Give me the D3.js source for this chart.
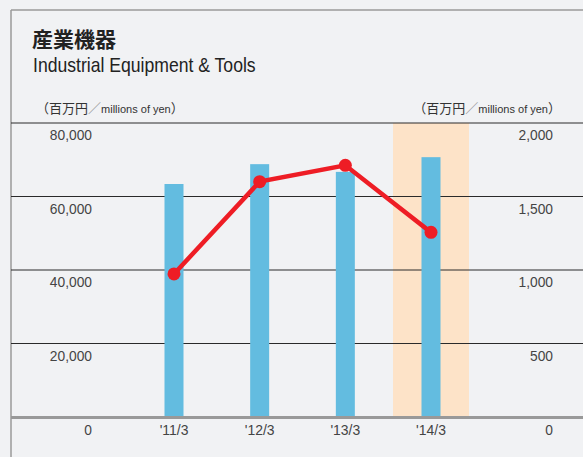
<!DOCTYPE html>
<html>
<head>
<meta charset="utf-8">
<script src="https://cdn.jsdelivr.net/npm/d3@7"></script>
<style>
  body { margin: 0; background: #f1f2f4; }
  svg { display: block; }
  text { font-family: "Liberation Sans", Arial, sans-serif; fill: #333; }
  .jp { font-family: "Noto Sans CJK JP", sans-serif; }
</style>
</head>
<body>
<svg></svg>
<script>
var categories = ["'11/3", "'12/3", "'13/3", "'14/3"];
var sales = [63400, 68800, 66700, 70700];      // left axis, bars
var income = [973, 1601, 1712, 1256];           // right axis, line
var leftTicks = [0, 20000, 40000, 60000, 80000];
var rightTicks = [0, 500, 1000, 1500, 2000];

var svgWidth = 583,
    svgHeight = 457;

var svg = d3.select("svg")
    .attr("width", svgWidth)
    .attr("height", svgHeight);

svg.append("rect")
    .attr("width", svgWidth).attr("height", svgHeight)
    .attr("fill", "#f1f2f4");

// frame
svg.append("line").attr("x1", 11).attr("x2", svgWidth).attr("y1", 10).attr("y2", 10)
    .attr("stroke", "#9a9a9a").attr("stroke-width", 1.5);
svg.append("line").attr("x1", 11).attr("x2", 11).attr("y1", 10).attr("y2", svgHeight)
    .attr("stroke", "#9a9a9a").attr("stroke-width", 1.5);

// squeezed text, Liberation Sans made to look like a condensed face
function ntext(sel, x, y, size, squeeze, anchor) {
    return sel.append("text")
        .attr("transform", "translate(" + x + "," + y + ") scale(" + squeeze + ",1)")
        .attr("text-anchor", anchor || "start")
        .attr("font-size", size);
}

// titles
svg.append("text").attr("class", "jp")
    .attr("x", 32).attr("y", 47)
    .attr("font-size", 21).attr("font-weight", "bold")
    .style("fill", "#222")
    .text("産業機器");
ntext(svg, 33, 72, 20, 0.88).style("fill", "#222").text("Industrial Equipment & Tools");

function unitLabel(x, anchor) {
    var g = svg.append("text")
        .attr("x", x).attr("y", 113)
        .attr("text-anchor", anchor)
        .attr("font-size", 13);
    g.append("tspan").attr("class", "jp").text("（百万円");
    g.append("tspan").attr("class", "jp").style("fill", "#999").text("／");
    g.append("tspan").attr("font-size", 11).text("millions of yen");
    g.append("tspan").attr("class", "jp").text("）");
}
unitLabel(36, "start");
unitLabel(561, "end");

var yLeft = d3.scaleLinear().domain([0, 80000]).range([417, 123]);
var yRight = d3.scaleLinear().domain([0, 2000]).range([417, 123]);
var x = d3.scalePoint().domain(categories).range([174, 431]);

// highlight band for latest year
svg.append("rect")
    .attr("x", x("'14/3") - 38).attr("width", 76)
    .attr("y", yLeft(80000)).attr("height", yLeft(0) - yLeft(80000))
    .attr("fill", "#fde3c8");

// gridlines
svg.selectAll("line.grid")
    .data(leftTicks.filter(function (d) { return d > 0; }))
    .enter()
    .append("line")
    .attr("class", "grid")
    .attr("x1", 11).attr("x2", svgWidth)
    .attr("y1", function (d) { return yLeft(d); })
    .attr("y2", function (d) { return yLeft(d); })
    .attr("stroke", "#2a2a2a").attr("stroke-width", 1);

// bars
var barWidth = 19;
svg.selectAll("rect.bar")
    .data(sales)
    .enter()
    .append("rect")
    .attr("class", "bar")
    .attr("x", function (d, i) { return x(categories[i]) - barWidth / 2; })
    .attr("width", barWidth)
    .attr("y", function (d) { return yLeft(d); })
    .attr("height", function (d) { return yLeft(0) - yLeft(d); })
    .attr("fill", "#63bce0");

// baseline
svg.append("line")
    .attr("x1", 11).attr("x2", svgWidth)
    .attr("y1", yLeft(0) + 0.5).attr("y2", yLeft(0) + 0.5)
    .attr("stroke", "#999").attr("stroke-width", 3);

// line series
var line = d3.line()
    .x(function (d, i) { return x(categories[i]); })
    .y(function (d) { return yRight(d); });

svg.append("path")
    .datum(income)
    .attr("d", line)
    .attr("fill", "none")
    .attr("stroke", "#ee1d25")
    .attr("stroke-width", 4.5);

svg.selectAll("circle")
    .data(income)
    .enter()
    .append("circle")
    .attr("cx", function (d, i) { return x(categories[i]); })
    .attr("cy", function (d) { return yRight(d); })
    .attr("r", 6.5)
    .attr("fill", "#ee1d25");

// axis labels
var fmt = d3.format(",");
leftTicks.forEach(function (d) {
    ntext(svg, 92, d === 0 ? 435 : yLeft(d) + 17, 15, 0.92, "end").style("fill", "#444").text(fmt(d));
});
rightTicks.forEach(function (d) {
    ntext(svg, 553, d === 0 ? 435 : yRight(d) + 17, 15, 0.92, "end").style("fill", "#444").text(fmt(d));
});
categories.forEach(function (d) {
    ntext(svg, x(d), 435, 15, 0.93, "middle").style("fill", "#444").text(d);
});
</script>
</body>
</html>
